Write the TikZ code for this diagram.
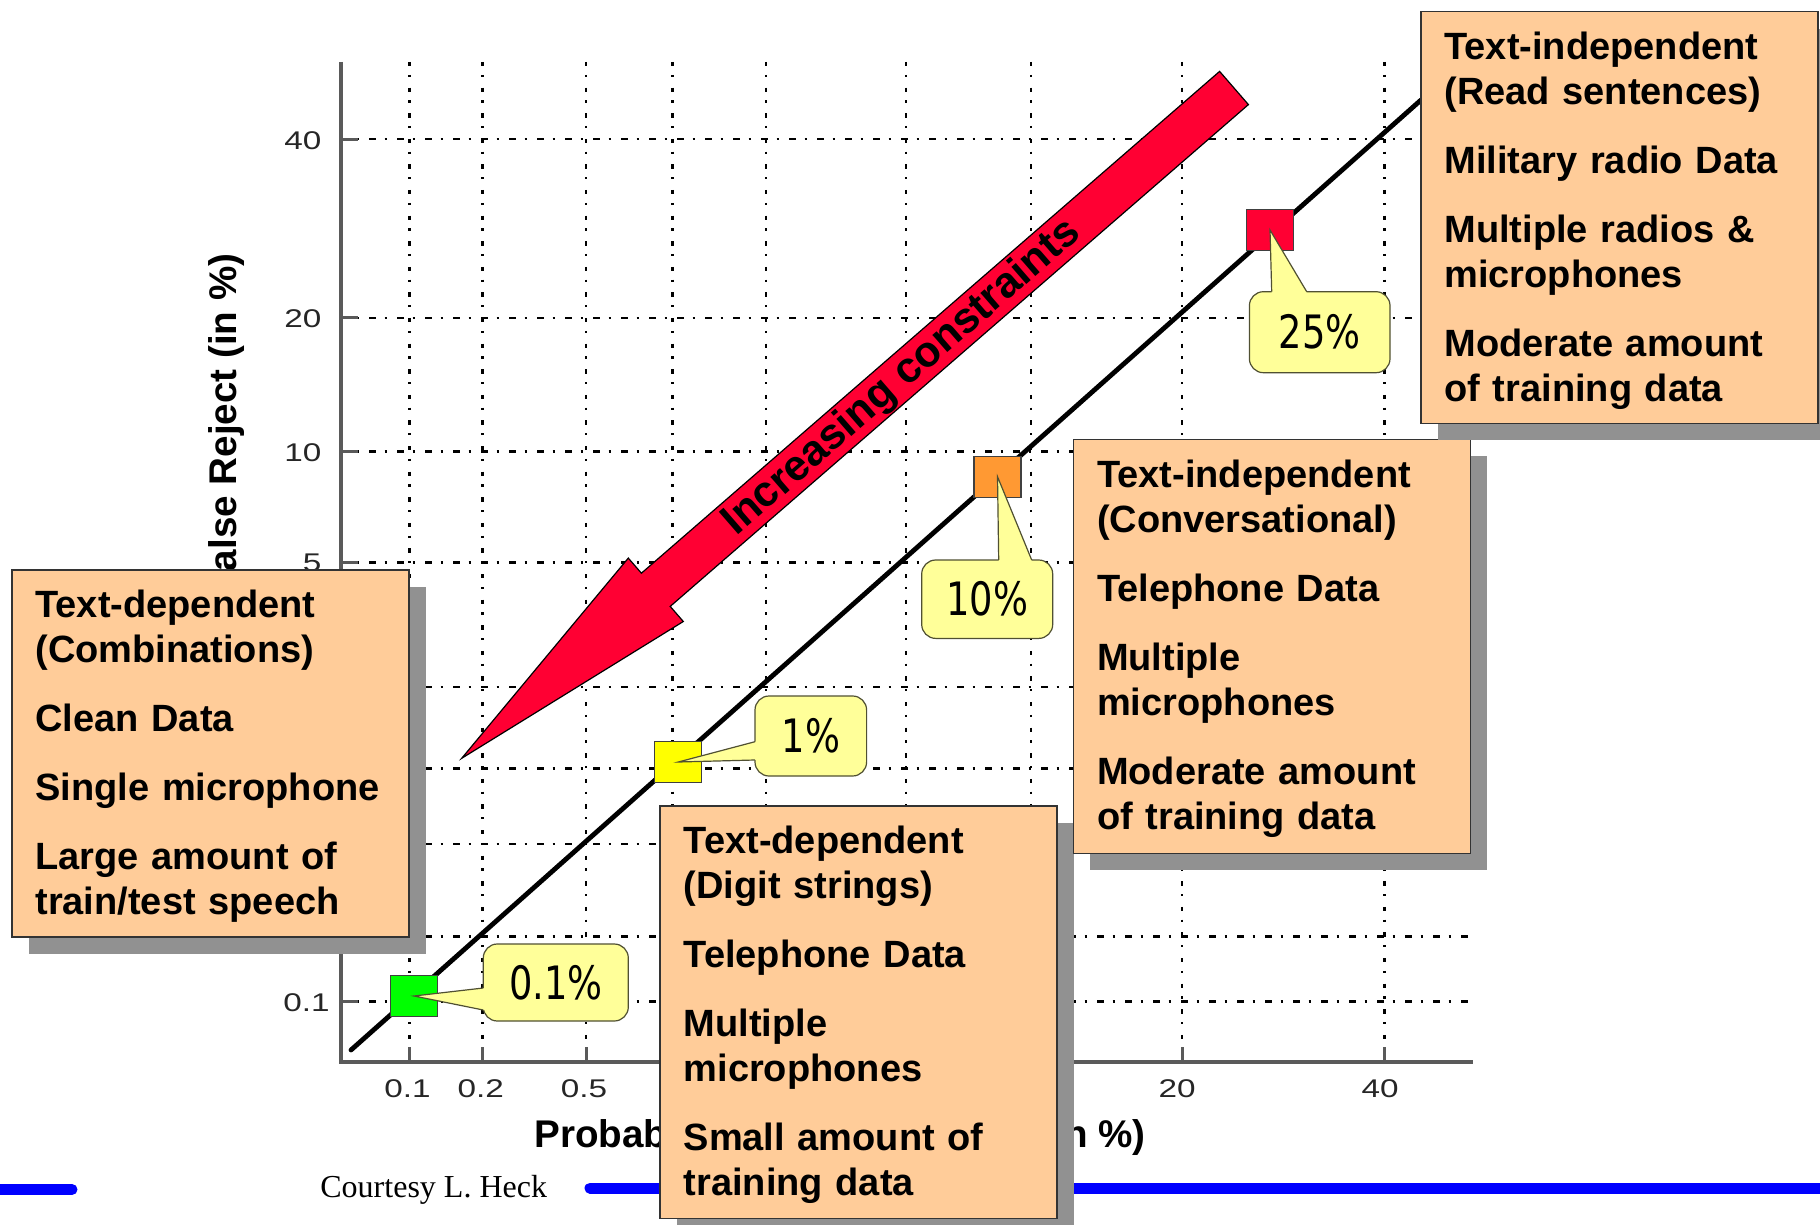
\documentclass[tikz,border=0pt]{standalone}
\usepackage{fontspec}
\setmainfont{Liberation Sans}
\newfontfamily\tickfont[FakeStretch=1.3]{Liberation Sans}
\newfontfamily\callfont[FakeStretch=0.8]{DejaVu Sans}
\newfontfamily\courtfont{Liberation Serif}
\usetikzlibrary{shadows}
\definecolor{peach}{RGB}{255,204,153}
\definecolor{shadowgray}{RGB}{145,145,145}
\definecolor{boxline}{RGB}{51,51,51}
\definecolor{callfillc}{RGB}{255,255,153}
\definecolor{calllinec}{RGB}{80,80,50}
\definecolor{arrowred}{RGB}{255,0,51}
\definecolor{sqgreen}{RGB}{0,255,0}
\definecolor{sqyellow}{RGB}{255,255,0}
\definecolor{sqorange}{RGB}{255,153,51}
\definecolor{blueline}{RGB}{0,0,255}
\definecolor{axiscol}{RGB}{90,90,90}
\begin{document}
\begin{tikzpicture}[x=0.5pt,y=-0.5pt,
  vgrid/.style={black, line width=1.2pt, dash pattern=on 2.2pt off 4.2pt on 1.1pt off 5.3pt},
  hgrid/.style={black, line width=1.2pt, dash pattern=on 3.3pt off 4.5pt on 1.2pt off 5pt},
  axisline/.style={axiscol, line width=1.6pt},
  ticklab/.style={text=black!85, font=\tickfont\fontsize{12.8}{14}\selectfont, inner sep=0pt},
  axtitle/.style={font=\bfseries\fontsize{19.3}{22}\selectfont, inner sep=0pt},
  arrowsty/.style={fill=arrowred, draw=black, line width=0.6pt, line join=miter},
  arrowtext/.style={font=\bfseries\fontsize{21.5}{24}\selectfont, inner sep=0pt},
  detline/.style={black, line width=2.4pt, line cap=round},
  sqbox/.style={draw=black!75, line width=0.6pt, minimum width=23.5pt, minimum height=20.5pt, inner sep=0pt},
  callbox/.style={fill=callfillc, draw=calllinec, line width=0.6pt, rounded corners=7pt, inner sep=0pt, font=\callfont\fontsize{23}{26}\selectfont},
  callwedge/.style={fill=callfillc},
  callside/.style={draw=calllinec, line width=0.6pt, line join=miter},
  infobox/.style={draw=boxline, line width=0.8pt, fill=peach, minimum width=198.5pt, anchor=north west, inner sep=0pt, outer sep=0pt,
    drop shadow={shadow xshift=8.5pt, shadow yshift=-8.5pt, fill=shadowgray, opacity=1}},
  boxtext/.style={anchor=base west, inner sep=0pt, text width=188pt, align=left, font=\bfseries\fontsize{19}{22.5}\selectfont},
  bluestroke/.style={blueline, line width=5.5pt, line cap=round}
]
\fill[white] (0,0) rectangle (1820,1225);
\useasboundingbox (0,0) rectangle (1820,1225);

% grid
\foreach \gx in {409.6,482.5,586.2,672.5,765.7,906.2,1031,1182.2,1384.4}
  \draw[vgrid] (\gx,62) -- (\gx,1062);
\foreach \gy in {139.3,317.8,451.6,562.3,687,768.6,843.8,936.3,1001.5}
  \draw[hgrid] (341,\gy) -- (1473,\gy);

% ticks and axes
\foreach \gy in {139.3,317.8,451.6,562.3,687,768.6,843.8,936.3,1001.5}
  \draw[axisline] (341,\gy) -- (358,\gy);
\foreach \gx in {409.6,482.5,586.2,672.5,765.7,906.2,1031,1182.2,1384.4}
  \draw[axisline] (\gx,1062) -- (\gx,1047);
\draw[axisline] (341,62) -- (341,1062) -- (1473,1062);

% tick labels
\node[ticklab, anchor=east] (yl40) at (321.7,140.5) {40};
\node[ticklab, anchor=east] (yl20) at (321.7,319) {20};
\node[ticklab, anchor=east] (yl10) at (321.7,452.5) {10};
\node[ticklab, anchor=east] (yl5) at (321.7,563) {5};
\node[ticklab, anchor=east] (yl01) at (330,1002.5) {0.1};
\node[ticklab] (xl01) at (407.5,1089) {0.1};
\node[ticklab] (xl02) at (480.7,1089) {0.2};
\node[ticklab] (xl05) at (584,1089) {0.5};
\node[ticklab] (xl20) at (1177,1089) {20};
\node[ticklab] (xl40) at (1380,1089) {40};

% axis titles
\node[axtitle, rotate=90, anchor=base west] (ytitle) at (236,595) {False Reject (in \%)};
\node[axtitle, anchor=base west] (xtitle) at (534,1147) {Probability of False Accept (in \%)};

% big arrow
\draw[arrowsty] (1219.6,71.4) -- (641.4,573.2) -- (628.3,558.1) -- (461.7,758.3)
  -- (683.3,621.5) -- (670.2,606.4) -- (1248.4,104.6) -- cycle;
\node[arrowtext, rotate=41] (arrowlabel) at (902,378) {Increasing constraints};

% DET line
\coordinate (detA) at (351,1050);
\coordinate (detB) at (1421,100);
\draw[detline] (detA) -- (detB);

% operating points
\node[sqbox, fill=sqgreen] (sq01) at (414,996) {};
\node[sqbox, fill=sqyellow] (sq1) at (678.3,762) {};
\node[sqbox, fill=sqorange] (sq10) at (997.5,476.7) {};
\node[sqbox, fill=arrowred] (sq25) at (1270,230) {};

% callouts
\node[callbox, minimum width=72.5pt, minimum height=38.5pt] (c01) at (555.8,982.5) {0.1\%};
\fill[callwedge] (sq01.center) -- (483.3,988) -- (488,988) -- (488,1010) -- (483.3,1010) -- cycle;
\draw[callside] (483.3,988) -- (sq01.center) -- (483.3,1010);

\node[callbox, minimum width=55.8pt, minimum height=40pt] (c1) at (810.8,736) {1\%};
\fill[callwedge] (sq1.center) -- (755,741.7) -- (760,741.7) -- (760,760) -- (755,760) -- cycle;
\draw[callside] (755,741.7) -- (sq1.center) -- (755,760);

\node[callbox, minimum width=65.5pt, minimum height=39.2pt] (c10) at (987.2,599.2) {10\%};
\fill[callwedge] (sq10.center) -- (998.7,560) -- (998.7,565) -- (1031.7,565) -- (1031.7,560) -- cycle;
\draw[callside] (998.7,560) -- (sq10.center) -- (1031.7,560);

\node[callbox, minimum width=70.3pt, minimum height=40.5pt] (c25) at (1319.7,332.2) {25\%};
\fill[callwedge] (sq25.center) -- (1271.7,291.7) -- (1271.7,296.7) -- (1306.7,296.7) -- (1306.7,291.7) -- cycle;
\draw[callside] (1271.7,291.7) -- (sq25.center) -- (1306.7,291.7);

% blue footer lines
\coordinate (blA) at (-20,1189.5);
\coordinate (blB) at (72,1189.5);
\coordinate (blC) at (590,1188);
\coordinate (blD) at (1840,1188);
\draw[bluestroke] (blA) -- (blB);
\draw[bluestroke] (blC) -- (blD);
\node[anchor=base west, inner sep=0pt, font=\courtfont\fontsize{16}{19}\selectfont] (court) at (320,1197) {Courtesy L. Heck};

% info boxes
\node[infobox, minimum height=183.5pt] (boxA) at (12,570) {};
\node[boxtext] (boxAtext) at (35,617.6) {Text-dependent\\(Combinations)\\[12pt]Clean Data\\[12pt]Single microphone\\[12pt]Large amount of\\train/test speech};

\node[infobox, minimum height=206.25pt] (boxB) at (660,806) {};
\node[boxtext] (boxBtext) at (683.3,853.3) {Text-dependent\\(Digit strings)\\[12pt]Telephone Data\\[12pt]Multiple\\microphones\\[12pt]Small amount of\\training data};

\node[infobox, minimum height=207pt] (boxC) at (1073.3,439.3) {};
\node[boxtext] (boxCtext) at (1096.7,487) {Text-independent\\(Conversational)\\[12pt]Telephone Data\\[12pt]Multiple\\microphones\\[12pt]Moderate amount\\of training data};

\node[infobox, minimum height=205.8pt] (boxD) at (1420.7,11.7) {};
\node[boxtext] (boxDtext) at (1444,59.3) {Text-independent\\(Read sentences)\\[12pt]Military radio Data\\[12pt]Multiple radios \&\\microphones\\[12pt]Moderate amount\\of training data};
\end{tikzpicture}
\end{document}
